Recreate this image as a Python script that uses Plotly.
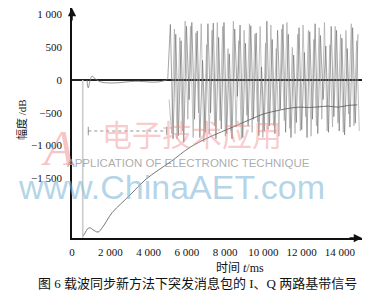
import plotly.graph_objects as go

# ---------------- data ----------------
# I / Q baseband samples during the burst (t in ms, sampled every 140 ms)
burst_t_i = list(range(5000, 15000, 140))
burst_t_q = list(range(5070, 15070, 140))
burst_i = [0, 850, -900, 700, -850, 600, -950, 820, -300, 880,
           -600, 750, -880, 300, -800, 860, -500, 870, -900, 650,
           -750, 880, -820, 400, -900, 780, -250, 840, -880, 560,
           -700, 830, -600, 720, -850, 200, -780, 900, -700, 620,
           -820, 760, -450, 850, -800, 700, -880, 380, -650, 800,
           -760, 420, -880, 740, -600, 860, -820, 680, -300, 520,
           -800, 820, -560, 760, -780, 640, -840, 480, -720, 800,
           -660, 700]
burst_q = [-300, -820, 780, -900, 650, -780, 900, -600, 820, -880,
           720, -500, 860, -950, 540, -820, 760, -700, 880, -620,
           820, -860, 480, -780, 900, -720, 600, -900, 760, -540,
           860, -800, 700, -640, 820, -880, 560, -760, 840, -700,
           480, -860, 780, -620, 880, -740, 500, -820, 700, -780,
           840, -560, 760, -860, 620, -700, 800, -600, 880, -780,
           540, -720, 820, -660, 700, -800, 760, -520, 860, -700,
           600, -780]

# slow envelope / tracking curve
env_t = [600, 700, 800, 940, 1100, 1360, 1600, 2090, 2600, 3130, 3810, 4500,
         5200, 6160, 7200, 8400, 9500, 10000, 10860, 11400, 11900, 12400,
         12900, 13400, 13900, 14400, 14900]
env_v = [-2380, -2330, -2280, -2260, -2290, -2325, -2250, -2030, -1880, -1730,
         -1530, -1380, -1240, -1030, -870, -720, -580, -520, -460, -430, -415,
         -420, -410, -400, -415, -390, -380]

# small pre-burst ripple near zero
pre_t = [780, 850, 950, 1050, 1200, 1500, 2000, 2500, 3000, 3500, 4000, 4500, 4950]
pre_v = [0, -120, 0, 60, 20, -30, -45, -40, -25, -20, -30, -30, 0]

# markers of the preamble window
win_t = [850, 4950]
win_v = [-780, -780]
gate_t = [560, 560]
gate_v = [0, -2420]

x_ticks = [0, 2000, 4000, 6000, 8000, 10000, 12000, 14000]
x_labels = ["0", "2 000", "4 000", "6 000", "8 000", "10 000", "12 000", "14 000"]
y_ticks = [1000, 500, 0, -500, -1000, -1500]
y_labels = ["1 000", "500", "0", "\u2212500", "\u22121 000", "\u22121 500"]

SERIF = "Liberation Serif, Times New Roman, Noto Sans CJK SC, serif"
CJK = "Liberation Serif, Noto Sans CJK SC, serif"

fig = go.Figure()
fig.add_trace(go.Scatter(x=gate_t, y=gate_v, mode="lines",
                         line=dict(color="#cccccc", width=1.6), hoverinfo="skip"))
fig.add_trace(go.Scatter(x=burst_t_q, y=burst_q, mode="lines",
                         line=dict(color="#a8a8a8", width=0.7), hoverinfo="skip"))
fig.add_trace(go.Scatter(x=burst_t_i, y=burst_i, mode="lines",
                         line=dict(color="#6a6a6a", width=0.6), hoverinfo="skip"))
fig.add_trace(go.Scatter(x=env_t, y=env_v, mode="lines", line_shape="spline",
                         line=dict(color="#555555", width=0.8), hoverinfo="skip"))
fig.add_trace(go.Scatter(x=pre_t, y=pre_v, mode="lines", line_shape="spline",
                         line=dict(color="#777777", width=0.8), hoverinfo="skip"))
fig.add_trace(go.Scatter(x=win_t, y=win_v, mode="lines+markers",
                         line=dict(color="#777777", width=0.8, dash="dot"),
                         marker=dict(symbol="line-ns-open", size=6,
                                     line=dict(color="#777777", width=0.8)),
                         hoverinfo="skip"))

W, H = 383, 294
L, R, T, B = 72, 21, 8, 56
pw, ph = W - L - R, H - T - B

fig.update_layout(
    width=W, height=H,
    margin=dict(l=L, r=R, t=T, b=B),
    paper_bgcolor="white", plot_bgcolor="white",
    showlegend=False,
    font=dict(family=SERIF, size=11, color="#111"),
    xaxis=dict(range=[0, 15150], tickvals=x_ticks, ticktext=x_labels,
               showgrid=False, zeroline=False, showline=True,
               linecolor="#111", linewidth=1.5, ticks="",
               ticklabelstandoff=3, tickfont=dict(family=SERIF, size=11)),
    yaxis=dict(range=[-2416, 1101], tickvals=y_ticks, ticktext=y_labels,
               showgrid=False, zeroline=True, zerolinecolor="#222",
               zerolinewidth=1.5, showline=True,
               linecolor="#111", linewidth=1.5, ticks="",
               ticklabelstandoff=6, tickfont=dict(family=SERIF, size=11)),
)


def px_note(px, py, text, **kw):
    return dict(x=(px - L) / pw, y=(H - B - py) / ph, xref="paper", yref="paper",
                xanchor="center", yanchor="middle", showarrow=False, text=text, **kw)


annotations = [
    # axis arrowheads
    dict(x=1, y=0, xref="paper", yref="paper", ax=-14, ay=0, text="",
         showarrow=True, arrowhead=2, arrowsize=1.1, arrowwidth=1.5, arrowcolor="#111"),
    dict(x=0, y=1, xref="paper", yref="paper", ax=0, ay=14, text="",
         showarrow=True, arrowhead=2, arrowsize=1.1, arrowwidth=1.5, arrowcolor="#111"),
    # watermark
    px_note(192, 133, "电子技术应用",
            font=dict(family="Noto Sans CJK SC", size=30, color="rgba(240,140,140,0.45)")),
    px_note(188, 163, "APPLICATION OF ELECTRONIC TECHNIQUE",
            font=dict(family="Liberation Sans, Arial", size=11.5, color="rgba(150,150,150,0.8)")),
    px_note(58, 148, "<i>A</i>",
            font=dict(family="Liberation Serif", size=50, color="rgba(240,140,140,0.5)")),
    px_note(171, 187, "www.ChinaAET.com",
            font=dict(family="Liberation Sans, Arial", size=34, color="rgba(130,185,215,0.6)")),
    # axis titles
    px_note(22, 120, "幅度 /dB", textangle=-90, font=dict(family=CJK, size=11, color="#111")),
    px_note(240, 268, "时间 <i>t</i>/ms", font=dict(family=CJK, size=12, color="#111")),
    # caption
    px_note(197, 283, "图 6 载波同步新方法下突发消息包的 I、Q 两路基带信号",
            font=dict(family=CJK, size=13, color="#111")),
]
fig.update_layout(annotations=annotations)

fig.write_html("out.html")
